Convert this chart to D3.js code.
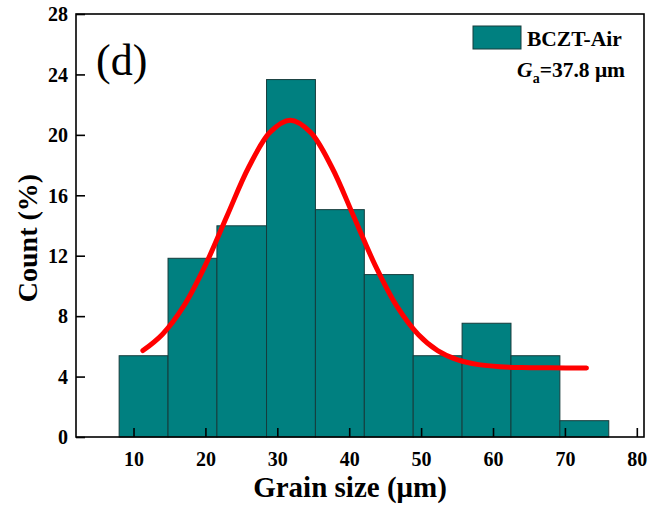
<!DOCTYPE html>
<html>
<head>
<meta charset="utf-8">
<script src="https://cdn.jsdelivr.net/npm/d3@7"></script>
<style>
  body { margin: 0; background: #fff; }
  text { font-family: "Liberation Serif", "Times New Roman", serif; }
</style>
</head>
<body>
<div id="chart"></div>
<script>
// histogram bins (grain size, um) and counts in %
const binEdges = [8.0, 14.8, 21.6, 28.5, 35.3, 42.1, 48.9, 55.7, 62.5, 69.3, 76.1]
const countPct = [5.38, 11.83, 13.98, 23.66, 15.05, 10.75, 5.38, 7.53, 5.38, 1.08]

// fitted curve
const fitX = [11.3, 14, 17, 20, 23, 26, 29, 31.8, 34.6, 37.6, 40.6, 43.6, 46.6, 49.6, 52.3, 55, 58, 61, 64, 68, 73]
const fitY = [5.72, 6.79, 8.68, 11.38, 14.63, 17.84, 20.18, 20.97, 20.18, 17.84, 14.63, 11.38, 8.68, 6.79, 5.72, 5.12, 4.79, 4.65, 4.60, 4.58, 4.57]

const xTicks = [10, 20, 30, 40, 50, 60, 70, 80]
const yTicks = [0, 4, 8, 12, 16, 20, 24, 28]

const W = 662, H = 506
const margin = {left: 76, right: 18, top: 14, bottom: 69}

const svg = d3.select("#chart").append("svg")
    .attr("width", W).attr("height", H)

const x = d3.scaleLinear().domain([2, 81]).range([margin.left, W - margin.right])
const y = d3.scaleLinear().domain([0, 28]).range([H - margin.bottom, margin.top])

//bars
const bins = countPct.map((v, i) => ({x0: binEdges[i], x1: binEdges[i + 1], v: v}))
svg.append("g").selectAll("rect").data(bins).join("rect")
    .attr("x", d => x(d.x0))
    .attr("width", d => x(d.x1) - x(d.x0))
    .attr("y", d => y(d.v))
    .attr("height", d => y(0) - y(d.v))
    .attr("fill", "#008080")
    .attr("stroke", "#163c3c")
    .attr("stroke-width", 1)

//fit line
const line = d3.line()
    .x(d => x(d[0])).y(d => y(d[1]))
    .curve(d3.curveCatmullRom)
svg.append("path")
    .datum(fitX.map((v, i) => [v, fitY[i]]))
    .attr("d", line)
    .attr("fill", "none")
    .attr("stroke", "#ff0000")
    .attr("stroke-width", 5)
    .attr("stroke-linecap", "round")

//frame
svg.append("rect")
    .attr("x", x(2)).attr("y", y(28))
    .attr("width", x(81) - x(2)).attr("height", y(0) - y(28))
    .attr("fill", "none").attr("stroke", "#000").attr("stroke-width", 1.6)

//axes with inward ticks
const xAxis = svg.append("g")
    .attr("transform", `translate(0,${y(0)})`)
    .call(d3.axisBottom(x).tickValues(xTicks).tickSizeInner(-9).tickSizeOuter(0).tickPadding(15))
const yAxis = svg.append("g")
    .attr("transform", `translate(${x(2)},0)`)
    .call(d3.axisLeft(y).tickValues(yTicks).tickSizeInner(-9).tickSizeOuter(0).tickPadding(8))

;[xAxis, yAxis].forEach(a => {
    a.select(".domain").remove()
    a.selectAll(".tick line").attr("stroke", "#000").attr("stroke-width", 1.6)
    a.selectAll(".tick text")
        .attr("fill", "#000")
        .style("font-family", "'Liberation Serif', serif")
        .style("font-size", "20px")
        .style("font-weight", "bold")
})
yAxis.selectAll(".tick text").attr("dy", "0.34em")

//axis titles
svg.append("text")
    .attr("x", 350).attr("y", 497)
    .attr("text-anchor", "middle")
    .style("font-size", "29px").style("font-weight", "bold")
    .text("Grain size (\u03bcm)")

svg.append("text")
    .attr("transform", `translate(37,238) rotate(-90)`)
    .attr("text-anchor", "middle")
    .style("font-size", "28px").style("font-weight", "bold")
    .text("Count (%)")

//panel label
svg.append("text")
    .attr("x", 96).attr("y", 75)
    .style("font-size", "44px")
    .text("(d)")

//legend
svg.append("rect")
    .attr("x", 473).attr("y", 26).attr("width", 48).attr("height", 23)
    .attr("fill", "#008080").attr("stroke", "#163c3c").attr("stroke-width", 1)
svg.append("text")
    .attr("x", 527).attr("y", 46)
    .style("font-size", "21.5px").style("font-weight", "bold")
    .text("BCZT-Air")

const ga = svg.append("text")
    .attr("x", 625).attr("y", 77)
    .attr("text-anchor", "end")
    .style("font-size", "21.5px").style("font-weight", "bold")
ga.append("tspan").style("font-style", "italic").text("G")
ga.append("tspan").attr("dy", 6).style("font-size", "14px").text("a")
ga.append("tspan").attr("dy", -6).text("=37.8 \u03bcm")
</script>
</body>
</html>
